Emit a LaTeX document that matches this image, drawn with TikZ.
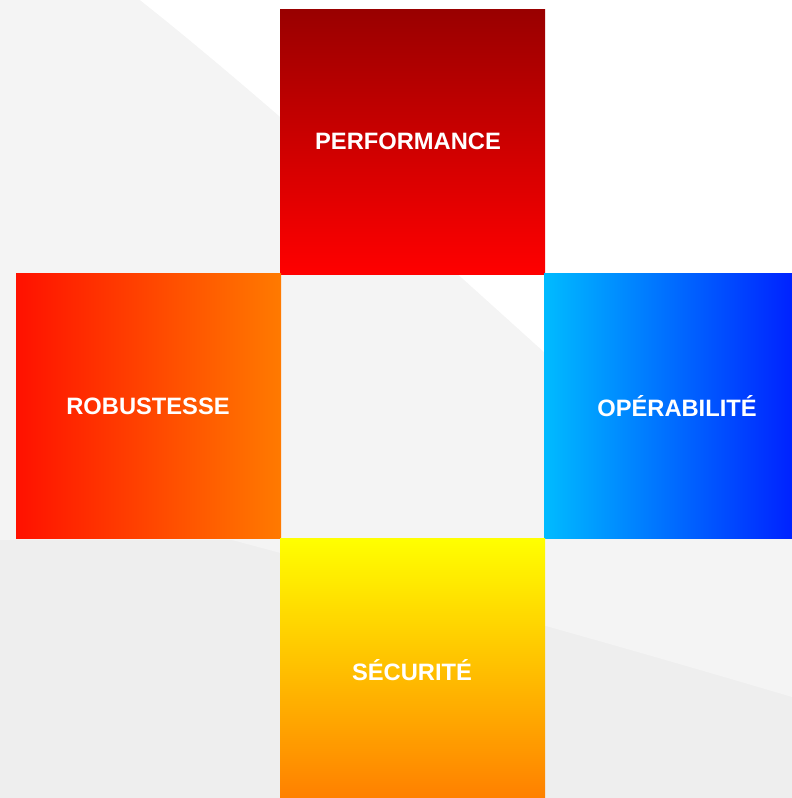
\documentclass[tikz,border=0pt]{standalone}
\usepackage{fontspec}
\setmainfont{Liberation Sans}
\definecolor{bgA}{HTML}{EEEEEE}
\definecolor{bgB}{HTML}{F4F4F4}
\definecolor{perfTop}{HTML}{990000}
\definecolor{perfBot}{HTML}{FF0000}
\definecolor{robL}{HTML}{FF1100}
\definecolor{robR}{HTML}{FF7A00}
\definecolor{opL}{HTML}{00BBFF}
\definecolor{opM}{HTML}{00A2FF}
\definecolor{opR}{HTML}{0022FF}
\definecolor{secTop}{HTML}{FFFF00}
\definecolor{secBot}{HTML}{FF8000}
\tikzset{
  tile/.style={draw=none, inner sep=0pt, minimum width=265pt, minimum height=265pt},
  label text/.style={text=white, font=\fontsize{23.7}{28}\selectfont\bfseries, inner sep=0pt}
}
\begin{document}
\begin{tikzpicture}[x=1pt,y=-1pt]
\useasboundingbox (0,0) rectangle (792,798);
% background
\fill[bgA] (0,0) rectangle (792,798);
\fill[bgB] (0,0) -- (0,540) -- (232,540) .. controls (400,585) and (600,640) .. (792,697) -- (792,0) -- cycle;
\fill[white] (140,0) .. controls (260,95) and (420,240) .. (544,352) -- (792,520) -- (792,0) -- cycle;
% tiles
\node[tile, anchor=north west, top color=perfTop, bottom color=perfBot] (perf) at (280,9) {};
\node[tile, anchor=north west, left color=robL, right color=robR] (rob) at (16,273) {};
\node[tile, anchor=north west, minimum width=248pt, left color=opL, middle color=opM, right color=opR] (op) at (544,273) {};
\node[tile, anchor=north west, minimum height=260pt, top color=secTop, bottom color=secBot] (sec) at (280,538) {};
% labels
\node[label text] (tperf) at (408,141) {PERFORMANCE};
\node[label text] (trob) at (148,406) {ROBUSTESSE};
\node[label text] (top) at (677,406) {OPÉRABILITÉ};
\node[label text] (tsec) at (412,670) {SÉCURITÉ};
\end{tikzpicture}
\end{document}
